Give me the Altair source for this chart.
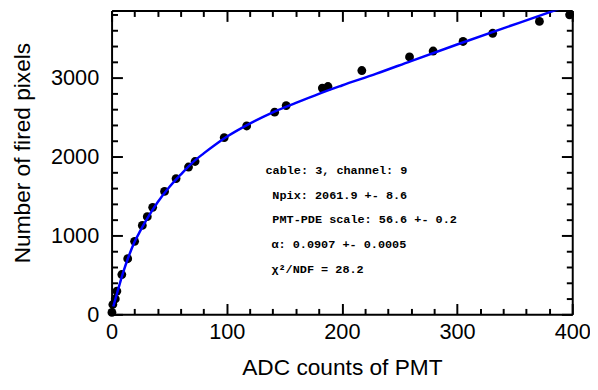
import altair as alt
import pandas as pd

# measured points
adc = [0.3, 1.1, 3.2, 4.6, 8.9, 14.0, 20.0, 26.7, 31.0, 35.7, 46.0, 56.0, 66.8, 72.5,
       97.8, 117.3, 141.6, 151.6, 183.0, 187.9, 217.3, 258.7, 279.2, 305.2, 330.9, 371.5, 397.7]
npix = [25, 125, 195, 295, 505, 705, 925, 1127, 1238, 1356, 1558, 1721, 1867, 1937,
        2240, 2387, 2562, 2646, 2867, 2887, 3090, 3262, 3337, 3458, 3562, 3712, 3796]

# fitted curve
fit_adc = [1.5, 5, 10, 15, 20, 25, 30, 40, 50, 60, 70, 80, 90, 100, 120, 140, 160, 180,
           200, 230, 260, 300, 340, 370, 400]
fit_npix = [100, 280, 530, 740, 920, 1060, 1190, 1420, 1610, 1770, 1920, 2040, 2150, 2250,
            2417, 2560, 2680, 2795, 2900, 3050, 3210, 3420, 3625, 3775, 3930]

x_tick_values = [0, 20, 40, 60, 80, 100, 120, 140, 160, 180, 200, 220, 240, 260, 280,
                 300, 320, 340, 360, 380, 400]
y_tick_values = [0, 200, 400, 600, 800, 1000, 1200, 1400, 1600, 1800, 2000, 2200, 2400,
                 2600, 2800, 3000, 3200, 3400, 3600, 3800]

ann_text = ["cable: 3, channel: 9", "Npix: 2061.9 +- 8.6", "PMT-PDE scale: 56.6 +- 0.2",
            "\u03b1: 0.0907 +- 0.0005", "\u03c7\u00b2/NDF = 28.2"]
ann_x = [133.6, 139.6, 139.6, 138.8, 138.8]
ann_y = [1825, 1512, 1212, 887, 575]

pts = pd.DataFrame({"adc": adc, "npix": npix})
fit = pd.DataFrame({"adc": fit_adc, "npix": fit_npix})
ann = pd.DataFrame({"t": ann_text, "x": ann_x, "y": ann_y})

xs = alt.Scale(domain=[0, 400], nice=False, zero=False)
ys = alt.Scale(domain=[0, 3850], nice=False, zero=False)

xtick = alt.ExprRef("datum.value % 100 === 0 ? -11 : -6")
ytick = alt.ExprRef("datum.value % 1000 === 0 ? -11 : -6")

common = dict(domainColor="black", domainWidth=2, tickColor="black", tickWidth=2,
              grid=False, labelOverlap=False, labelFlush=False)

ax_bottom = alt.Axis(orient="bottom", values=x_tick_values, tickSize=xtick,
                     labelExpr="datum.value % 100 === 0 ? datum.label : ''",
                     format="d", labelPadding=18, labelFont="Liberation Sans",
                     labelFontSize=22, labelColor="black",
                     title="ADC counts of PMT", titleFont="Liberation Sans",
                     titleFontSize=23, titleFontWeight="normal", titleColor="black",
                     titlePadding=10, **common)
ax_left = alt.Axis(orient="left", values=y_tick_values, tickSize=ytick,
                   labelExpr="datum.value % 1000 === 0 ? datum.label : ''",
                   format="d", labelPadding=24, labelFont="Liberation Sans",
                   labelFontSize=22, labelColor="black",
                   title="Number of fired pixels", titleFont="Liberation Sans",
                   titleFontSize=23, titleFontWeight="normal", titleColor="black",
                   titlePadding=16, titleY=144, **common)
ax_top = alt.Axis(orient="top", values=x_tick_values, tickSize=xtick, labels=False,
                  title=None, **common)
ax_right = alt.Axis(orient="right", values=y_tick_values, tickSize=ytick, labels=False,
                    title=None, **common)

points = alt.Chart(pts).mark_circle(size=80, color="black", opacity=1).encode(
    x=alt.X("adc:Q", scale=xs, axis=ax_bottom),
    y=alt.Y("npix:Q", scale=ys, axis=ax_left),
)

line = alt.Chart(fit).mark_line(color="#0000ff", strokeWidth=2.5, clip=True,
                                interpolate="monotone").encode(
    x=alt.X("adc:Q", scale=xs, axis=ax_top),
    y=alt.Y("npix:Q", scale=ys, axis=ax_right),
)

text = alt.Chart(ann).mark_text(align="left", baseline="middle", font="Liberation Mono",
                                fontWeight="bold", fontSize=12, color="black").encode(
    x=alt.X("x:Q", scale=xs, axis=None),
    y=alt.Y("y:Q", scale=ys, axis=None),
    text="t:N",
)

chart = alt.layer(points, text, line).resolve_axis(x="independent", y="independent").properties(
    width=467, height=308,
    autosize=alt.AutoSizeParams(type="none"),
    padding={"left": 105, "top": 0, "right": 18, "bottom": 66},
    background="white",
).configure_view(stroke=None)

chart.save("out.html", embed_options={"renderer": "svg", "actions": False})
